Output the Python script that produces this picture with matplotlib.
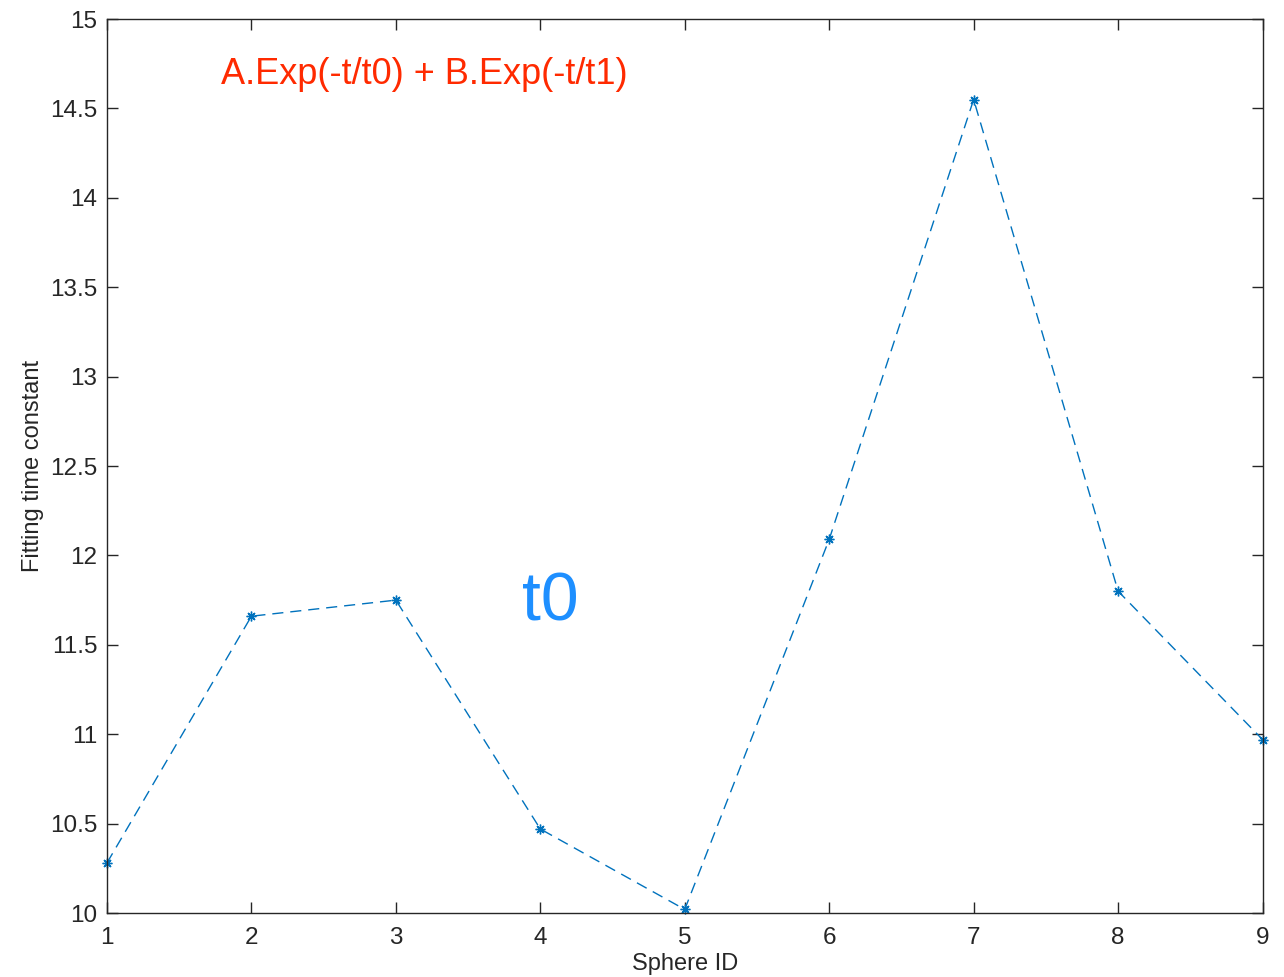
import matplotlib.pyplot as plt

plt.rcParams['font.family'] = ['Liberation Sans', 'DejaVu Sans']

# fitted t0 for each sphere
sphere_id = [1, 2, 3, 4, 5, 6, 7, 8, 9]
t0_values = [10.28, 11.66, 11.75, 10.47, 10.02, 12.09, 14.55, 11.80, 10.97]

y_ticks = [10, 10.5, 11, 11.5, 12, 12.5, 13, 13.5, 14, 14.5, 15]
y_tick_labels = ['10', '10.5', '11', '11.5', '12', '12.5', '13', '13.5', '14', '14.5', '15']

dark = '#262626'

fig = plt.figure(figsize=(12.84, 9.77), dpi=100)
ax = fig.add_axes([0.0833, 0.0655, 0.9, 0.915])

ax.plot(sphere_id, t0_values, linestyle='--', color='#0072BD', linewidth=1.0,
        dashes=(8, 5), marker=(8, 2, 0), markersize=7, markeredgewidth=1.0,
        clip_on=False)

ax.set_xlim(1, 9)
ax.set_ylim(10, 15)
ax.set_xticks(sphere_id)
ax.set_yticks(y_ticks)
ax.set_yticklabels(y_tick_labels)

ax.tick_params(direction='in', length=8, width=1, colors=dark, labelsize=17.5,
               top=True, right=True, pad=7)
ax.tick_params(axis='x', pad=10)
for sp in ax.spines.values():
    sp.set_color(dark)
    sp.set_linewidth(1.0)

ax.set_xlabel('Sphere ID', fontsize=17, color=dark, labelpad=3)
ax.set_ylabel('Fitting time constant', fontsize=17, color=dark, labelpad=4)

ax.text(0.275, 0.938, 'A.Exp(-t/t0) + B.Exp(-t/t1)', transform=ax.transAxes,
        ha='center', va='center', fontsize=26, color='#FF2A00')
ax.text(0.384, 0.347, 't0', transform=ax.transAxes,
        ha='center', va='center', fontsize=49, color='#1E8FFF')

fig.savefig('out.png', dpi=100)
